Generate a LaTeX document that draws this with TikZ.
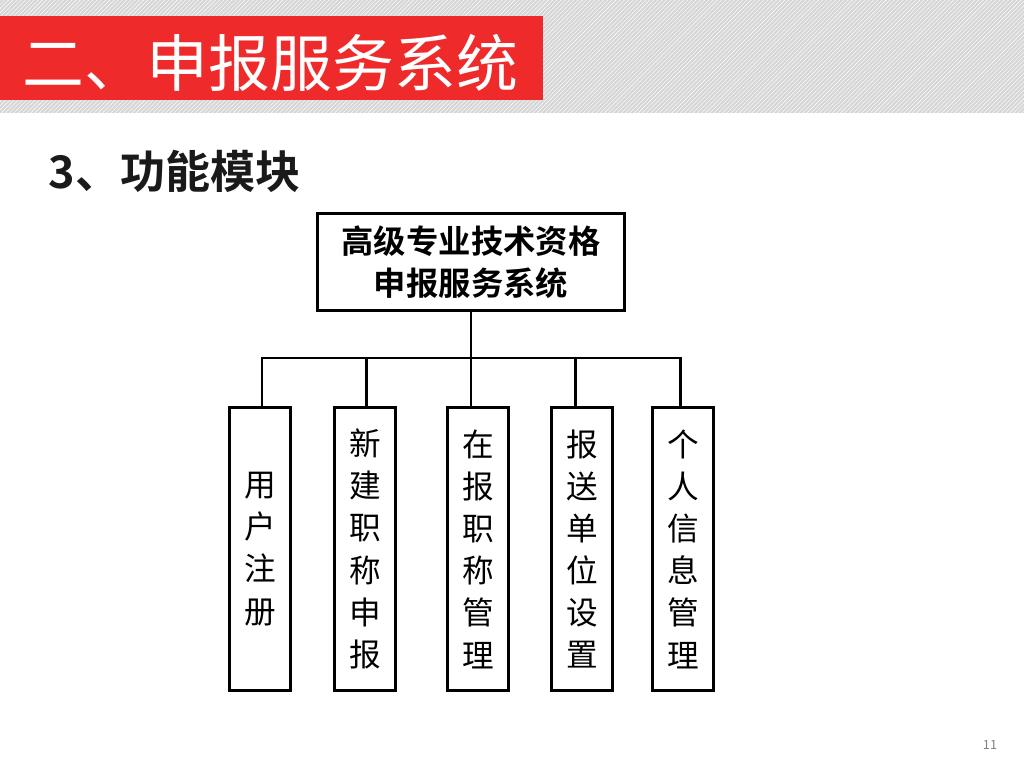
\documentclass[tikz,border=0pt]{standalone}
\usepackage{fontspec}
\setmainfont{Noto Sans CJK SC}[BoldFont={Noto Sans CJK SC Bold}]
\usetikzlibrary{positioning,patterns}
\definecolor{bannerRed}{HTML}{EE2A2A}
\definecolor{bandGray}{HTML}{D6D6D6}
\definecolor{headInk}{HTML}{1A1A1A}

\begin{document}
\begin{tikzpicture}[x=0.025cm,y=-0.025cm,
  conn/.style={line width=2.1pt,line join=miter},
  topbox/.style={draw,line width=2.1pt,minimum width=7.675cm,minimum height=2.425cm,
    align=center,font=\bfseries\fontsize{23}{30}\selectfont},
  modbox/.style={draw,line width=2.1pt,minimum width=1.525cm,minimum height=7.05cm,
    align=center,font=\fontsize{22.5}{30}\selectfont}]
  \useasboundingbox (0,0) rectangle (1024,768);
  % banner
  \fill[bandGray] (0,0) rectangle (1024,113);
  \fill[pattern=north east lines,pattern color=white!85!bandGray] (0,0) rectangle (1024,113);
  \fill[bannerRed] (0,16) rectangle (543,100);
  \node[anchor=west,text=white,font=\fontsize{44}{48}\selectfont] (title) at (18,63) {二、申报服务系统};
  \node[anchor=west,text=headInk,font=\bfseries\fontsize{32}{36}\selectfont] (heading) at (44,171) {3、功能模块};
  % tree
  \node[topbox] (sys) at (471,262) {高级专业技术资格\\申报服务系统};
  \node[modbox] (m1) at (260,549) {用\\户\\注\\册};
  \node[modbox] (m2) at (365,549) {新\\建\\职\\称\\申\\报};
  \node[modbox] (m3) at (478,549) {在\\报\\职\\称\\管\\理};
  \node[modbox] (m4) at (582,549) {报\\送\\单\\位\\设\\置};
  \node[modbox] (m5) at (683,549) {个\\人\\信\\息\\管\\理};
  % drops sit at even spacing, not at box centres
  \coordinate (busL) at (262,358);
  \coordinate (busR) at (680.7,358);
  \draw[conn] (busL |- m1.north) -- (busL) -- (busR) -- (busR |- m5.north);
  \foreach \m/\x in {m2/366.7,m3/471,m4/575.7}{
    \draw[conn] (\x,358) -- (\x,358 |- \m.north);
  }
  \draw[conn] (sys.south) -- (sys.south |- busL);
  \node[text=gray,font=\fontsize{9}{10}\selectfont] (page) at (990,745) {11};
\end{tikzpicture}
\end{document}
